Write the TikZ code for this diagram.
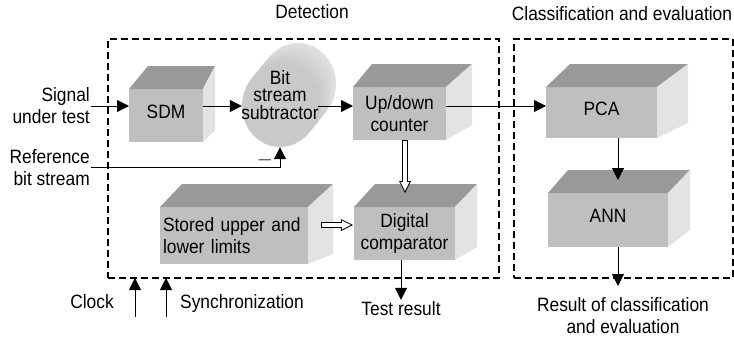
\documentclass[tikz,border=0pt]{standalone}
\usepackage{fontspec}
\setmainfont{Liberation Sans}[FakeStretch=0.9]
\usetikzlibrary{arrows.meta,calc,shapes.geometric}

\definecolor{facegray}{gray}{0.75}
\definecolor{topgray}{gray}{0.6}
\definecolor{sidegray}{gray}{0.89}
\definecolor{cylgray}{gray}{0.79}

\begin{document}
\begin{tikzpicture}[
  x=1pt, y=-1pt,
  font=\fontsize{19.3}{22}\selectfont,
  block/.style={fill=facegray, inner sep=0pt, outer sep=0pt, align=center},
  oneline/.style={text depth=8pt},
  topface/.style={fill=topgray},
  sideface/.style={fill=sidegray},
  stage/.style={draw, dash pattern=on 7pt off 4pt, line width=1.5pt,
                inner sep=0pt, outer sep=0pt},
  arr/.style={-{Triangle[length=12pt,width=12pt]}, line width=1pt},
  hollow/.style={line width=6pt, -{Triangle[length=12pt,width=12pt,line width=0pt]},
                 postaction={draw=white, line width=4pt, shorten <=1pt, shorten >=2.2pt,
                             -{Triangle[length=8.8pt,width=8.8pt,line width=0pt]}}},
  lbl/.style={inner sep=1pt}
]
  \useasboundingbox (0,0) rectangle (734,340);

  % dashed stages
  \node[stage, minimum width=391, minimum height=239] (det) at (303.5,158.5) {};
  \node[stage, minimum width=219, minimum height=239] (cls) at (623.5,158.5) {};
  \node (dettitle) at (312,12) {Detection};
  \node (clstitle) at (622,14) {Classification and evaluation};

  % blocks
  \node[block, oneline, minimum width=74, minimum height=53] (SDM) at (166,115.5) {SDM};
  \coordinate (subc) at (280,106);
  \foreach \t in {30,29,...,1}{
    \pgfmathsetmacro{\shd}{22-10*\t/30}
    \fill[black!\shd] ($(subc)+(0.6*\t,-0.7333*\t)$) ellipse [x radius=38, y radius=41];
  }
  \node[ellipse, fill=cylgray, minimum width=76, minimum height=82, inner sep=0pt] (SUB) at (subc) {};
  \node[align=center, font=\fontsize{19.3}{17.5}\selectfont] (subtxt) at (280,95) {Bit\\stream\\subtractor};
  \node[block, minimum width=93, minimum height=53] (UD) at (399.5,113.5) {Up/down\\counter};
  \node[block, minimum width=148, minimum height=57, text width=142, align=left] (ST) at (234,235.5) {Stored upper and\\lower limits};
  \node[block, minimum width=101, minimum height=53] (DC) at (404.5,233.5) {Digital\\comparator};
  \node[block, oneline, minimum width=111, minimum height=51] (PCA) at (601.5,112.5) {PCA};
  \node[block, oneline, minimum width=120, minimum height=54] (ANN) at (608,220) {ANN};

  % top and side faces
  \foreach \n/\a/\b/\d in {SDM/19/12/12, UD/19/26/15, DC/21/22/13, ST/22/25/10, PCA/24/31/15, ANN/20/22/17}{
    \fill[topface] (\n.north west) -- ++(\a,-23) -- ($(\n.north east)+(\b,-23)$) -- (\n.north east) -- cycle;
    \fill[sideface] (\n.north east) -- ($(\n.north east)+(\b,-23)$) -- ($(\n.south east)+(\b,-\d)$) -- (\n.south east) -- cycle;
  }

  % inputs
  \node[lbl, anchor=east, align=right] (sigtxt) at (91,106) {Signal\\under test};
  \node[lbl, anchor=east, align=right] (reftxt) at (91,167.5) {Reference\\bit stream};
  \node (minus) at (265,160) {$-$};
  \node[lbl, anchor=base] (clktxt) at (92,308) {Clock};
  \node[inner sep=0pt, anchor=base west] (syntxt) at (180,308) {Synchronization};
  \coordinate (clk) at (135,317);
  \coordinate (syn) at (166,317);

  % outputs
  \node[lbl, anchor=base] (testres) at (401,315) {Test result};
  \node[lbl, anchor=north, align=center] (cres) at (623,296) {Result of classification\\and evaluation};

  % connectors
  \draw[arr] (sigtxt.east) -- (sigtxt.east -| SDM.west);
  \draw[arr] (SDM.east |- sigtxt.east) -- (SUB.west |- sigtxt.east);
  \draw[arr] (SUB.east |- sigtxt.east) -- (UD.west |- sigtxt.east);
  \draw[arr] (UD.east |- sigtxt.east) -- (PCA.west |- sigtxt.east);
  \draw[arr] (reftxt.east) -| (SUB.south);
  \draw[hollow] ($(UD.south)+(5.5,0)$) -- ($(DC.north)+(0.5,-14)$);
  \draw[hollow] ($(ST.east)+(13,-10.5)$) -- ($(DC.west)+(-1,-8.5)$);
  \draw[arr] (testres.north |- DC.south) -- (testres.north);
  \draw[arr] ($(PCA.south)+(16.5,0)$) -- ($(ANN.north)+(10,-13)$);
  \draw[arr] ($(ANN.south)+(10,0)$) -- ($(cres.north)+(-5,-10)$);
  \draw[arr] (clk) -- (clk |- det.south);
  \draw[arr] (syn) -- (syn |- det.south);
\end{tikzpicture}
\end{document}
